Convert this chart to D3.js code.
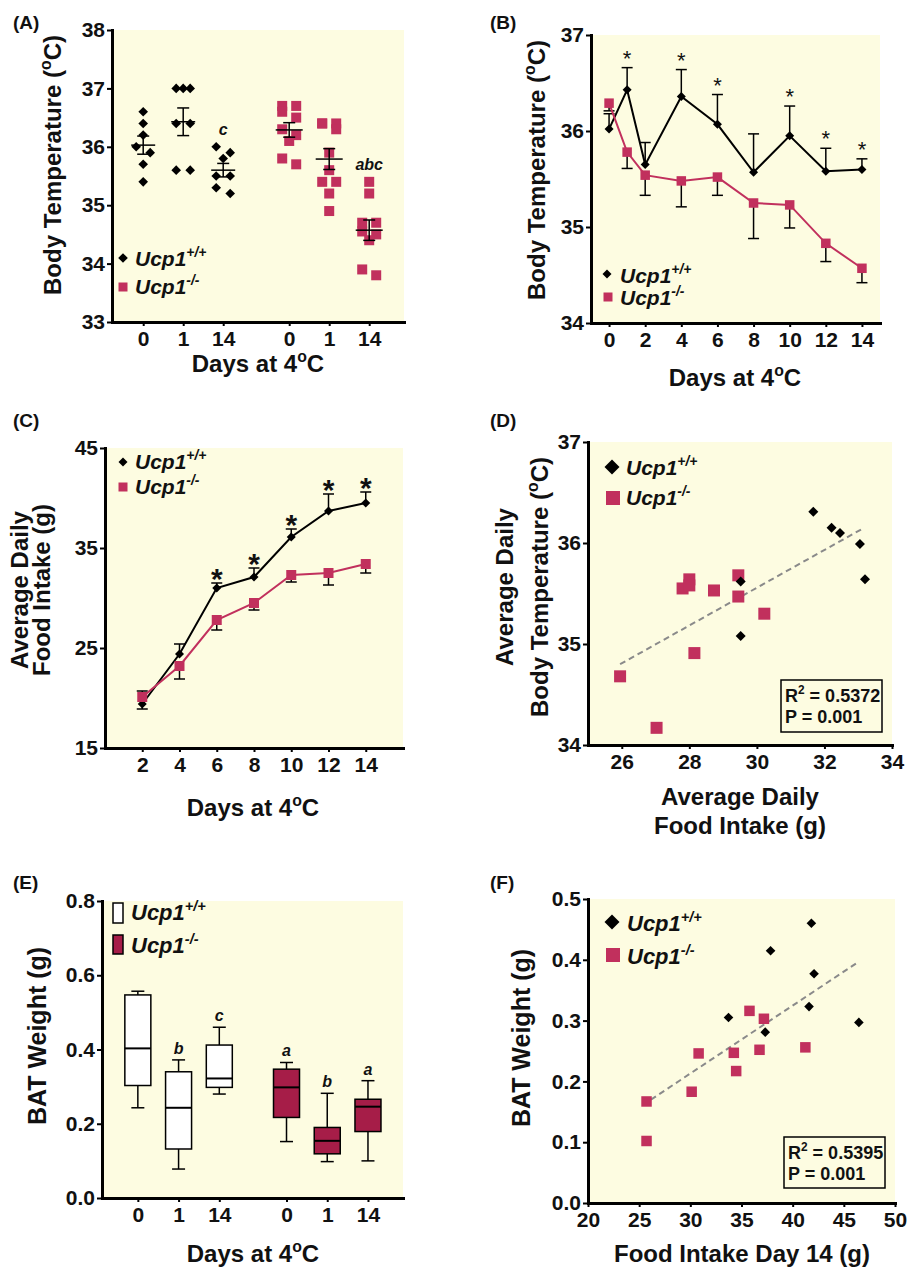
<!DOCTYPE html>
<html>
<head>
<meta charset="utf-8">
<script src="https://cdn.jsdelivr.net/npm/d3@7"></script>
<style>
body { margin: 0; background: #fff; }
</style>
</head>
<body>
<svg width="910" height="1269"></svg>
<script>
// ---------- data ----------
var genotypes = [["Ucp1", "^+/+"], ["Ucp1", "^-/-"]];

// (A) body temperature of single mice, days 0 / 1 / 14 at 4C
var aDayLabels = ["0", "1", "14", "0", "1", "14"];
var aWt = [
    [36.6, 36.4, 36.2, 36.0, 35.9, 35.7, 35.4],
    [37.0, 37.0, 37.0, 36.4, 36.4, 35.6, 35.6],
    [36.0, 35.9, 35.8, 35.5, 35.5, 35.3, 35.2]
];
var aKo = [
    [36.7, 36.7, 36.6, 36.5, 36.3, 36.2, 36.1, 35.8, 35.7],
    [36.4, 36.4, 36.4, 36.3, 35.9, 35.6, 35.4, 35.4, 35.2, 34.9],
    [35.4, 35.2, 34.7, 34.7, 34.55, 34.5, 34.4, 33.9, 33.8]
];
var aLetters = ["", "", "c", "", "", "abc"];

// (B) body temperature time course
var bDays = [0, 1, 2, 4, 6, 8, 10, 12, 14];
var bWtMean = [36.02, 36.43, 35.65, 36.36, 36.07, 35.57, 35.95, 35.58, 35.60];
var bWtSem = [0.16, 0.23, 0.23, 0.28, 0.31, 0.40, 0.31, 0.24, 0.11];
var bKoMean = [36.29, 35.78, 35.54, 35.48, 35.52, 35.25, 35.23, 34.83, 34.57];
var bKoSem = [0.08, 0.17, 0.21, 0.27, 0.19, 0.37, 0.24, 0.19, 0.15];
var bStars = [1, 4, 6, 10, 12, 14];

// (C) average daily food intake
var cDays = [2, 4, 6, 8, 10, 12, 14];
var cWtMean = [19.4, 24.4, 31.0, 32.1, 36.1, 38.7, 39.5];
var cWtSem = [0.5, 1.0, 0.5, 0.9, 0.8, 1.7, 1.1];
var cKoMean = [20.1, 23.2, 27.8, 29.5, 32.3, 32.5, 33.4];
var cKoSem = [0.6, 1.3, 1.0, 0.7, 0.7, 1.2, 0.9];
var cStars = [6, 8, 10, 12, 14];

// (D) food intake vs body temperature
var dWtFood = [31.67, 32.21, 32.46, 33.05, 33.2, 29.52, 29.52];
var dWtTemp = [36.31, 36.15, 36.10, 35.99, 35.64, 35.62, 35.08];
var dKoFood = [27.8, 28.0, 28.0, 28.73, 29.45, 29.45, 30.22, 28.15, 25.95, 27.03];
var dKoTemp = [35.55, 35.64, 35.58, 35.53, 35.68, 35.47, 35.30, 34.91, 34.68, 34.17];
var dFitFood = [25.95, 33.17];
var dFitTemp = [34.80, 36.15];
var dStats = ["0.5372", "0.001"];

// (E) BAT weight boxes: whisker low, q1, median, q3, whisker high
var eDayLabels = ["0", "1", "14", "0", "1", "14"];
var eLow = [0.243, 0.078, 0.280, 0.152, 0.098, 0.100];
var eQ1 = [0.303, 0.132, 0.298, 0.217, 0.119, 0.179];
var eMed = [0.403, 0.243, 0.322, 0.298, 0.154, 0.246];
var eQ3 = [0.547, 0.340, 0.412, 0.347, 0.190, 0.266];
var eHigh = [0.557, 0.372, 0.460, 0.365, 0.282, 0.316];
var eLetters = ["", "b", "c", "a", "b", "a"];

// (F) food intake day 14 vs BAT weight
var fWtFood = [41.83, 37.84, 42.09, 41.6, 33.73, 37.32, 46.47];
var fWtBat = [0.460, 0.415, 0.377, 0.323, 0.305, 0.281, 0.297];
var fKoFood = [35.78, 37.19, 41.24, 30.81, 34.25, 36.76, 34.48, 30.13, 25.72, 25.72];
var fKoBat = [0.316, 0.303, 0.256, 0.246, 0.247, 0.252, 0.217, 0.183, 0.167, 0.102];
var fFitFood = [26.15, 46.47];
var fFitBat = [0.170, 0.397];
var fStats = ["0.5395", "0.001"];

// ---------- helpers ----------
var font = "'Liberation Sans', Arial, Helvetica, sans-serif";
var bgColor = "#fdfce1";
var koColor = "#c1305d";
var koBox = "#a61d48";
var svg = d3.select("svg");

// parts: plain strings, "^xx" is raised
function rich(x, y, parts, size, opts) {
    opts = opts || {};
    var t = svg.append("text")
        .attr("x", x).attr("y", y)
        .attr("font-family", font)
        .attr("font-size", size)
        .attr("font-weight", "bold")
        .attr("font-style", opts.italic ? "italic" : "normal")
        .attr("text-anchor", opts.anchor || "start")
        .attr("fill", "#111");
    if (opts.rotate) t.attr("transform", `rotate(-90,${x},${y})`);
    var raised = false;
    parts.forEach((p) => {
        if (p[0] == "^") {
            t.append("tspan").text(p.slice(1))
                .attr("font-size", size * 0.66)
                .attr("dy", -size * 0.42);
            raised = true;
        } else {
            var s = t.append("tspan").text(p);
            if (raised) s.attr("dy", size * 0.42);
            raised = false;
        }
    });
    return t;
}

function backdrop(x, y) {
    var x0 = x.range()[0], x1 = x.range()[1];
    var y0 = y.range()[1], y1 = y.range()[0];
    svg.append("rect")
        .attr("x", x0).attr("y", y0)
        .attr("width", x1 - x0).attr("height", y1 - y0)
        .attr("fill", bgColor);
}

function axes(x, y, xTicks, yTicks, xFmt, yFmt) {
    var gx = svg.append("g")
        .attr("transform", `translate(0,${y.range()[0]})`)
        .call(d3.axisBottom(x).tickValues(xTicks).tickFormat(xFmt)
            .tickSize(4).tickSizeOuter(0).tickPadding(5));
    var gy = svg.append("g")
        .attr("transform", `translate(${x.range()[0]},0)`)
        .call(d3.axisLeft(y).tickValues(yTicks).tickFormat(yFmt)
            .tickSize(5).tickSizeOuter(0).tickPadding(2));
    [gx, gy].forEach((g) => {
        g.attr("font-family", font).attr("font-size", 21).attr("font-weight", "bold");
        g.select(".domain").attr("stroke-width", 3).attr("stroke-linecap", "square");
        g.selectAll(".tick line").attr("stroke-width", 2);
        g.selectAll(".tick text").attr("fill", "#111");
    });
}

function diamond(cx, cy, r, color) {
    svg.append("path")
        .attr("d", `M${cx},${cy - r}L${cx + r},${cy}L${cx},${cy + r}L${cx - r},${cy}Z`)
        .attr("fill", color || "#000");
}

function square(cx, cy, s, color) {
    svg.append("rect")
        .attr("x", cx - s / 2).attr("y", cy - s / 2)
        .attr("width", s).attr("height", s)
        .attr("fill", color || koColor);
}

function seg(x1, y1, x2, y2, w, color) {
    return svg.append("line")
        .attr("x1", x1).attr("y1", y1).attr("x2", x2).attr("y2", y2)
        .attr("stroke", color || "#000")
        .attr("stroke-width", w || 1.5);
}

function errBar(x, yFrom, yTo, cap) {
    seg(x, yFrom, x, yTo);
    seg(x - cap / 2, yTo, x + cap / 2, yTo);
}

// spread tied points into two columns, odd one of a cluster in the middle
function jitter(vals, gap) {
    var idx = vals.map((v, i) => i).sort((a, b) => vals[b] - vals[a]);
    var off = new Array(vals.length);
    var start = 0;
    for (var k = 1; k <= idx.length; k++) {
        if (k == idx.length || vals[idx[k - 1]] - vals[idx[k]] > 0.12) {
            var n = k - start;
            for (var j = start; j < k; j++) {
                var p = j - start;
                off[idx[j]] = (n % 2 == 1 && p == n - 1) ? 0 : (p % 2 ? gap : -gap);
            }
            start = k;
        }
    }
    return off;
}

function legendText(x, y, g, size) {
    rich(x, y, genotypes[g], size, {italic: true});
}

function statBox(x, y, w, h, stats) {
    svg.append("rect")
        .attr("x", x).attr("y", y).attr("width", w).attr("height", h)
        .attr("fill", "none").attr("stroke", "#000").attr("stroke-width", 1.5);
    rich(x + 4, y + 22, ["R", "^2", " = " + stats[0]], 18);
    rich(x + 4, y + 43, ["P = " + stats[1]], 18);
}

// panel letters
[["(A)", 13, 29], ["(B)", 490, 29], ["(C)", 13, 427],
 ["(D)", 490, 427], ["(E)", 13, 889], ["(F)", 490, 889]].forEach((p) => {
    rich(p[1], p[2], [p[0]], 19);
});

// ---------- (A) ----------
var aSlots = [0, 1, 2, 3.65, 4.65, 5.65];
var aX = d3.scaleLinear().domain([-0.78, 6.52]).range([112, 404]);
var aY = d3.scaleLinear().domain([33, 38]).range([322, 30]);
backdrop(aX, aY);
[aWt, aKo].forEach((groups, g) => {
    groups.forEach((vals, i) => {
        var slot = g * 3 + i;
        var cx = aX(aSlots[slot]);
        var off = jitter(vals, 7);
        vals.forEach((v, k) => {
            if (g == 0) diamond(cx + off[k], aY(v), 4.8);
            else square(cx + off[k], aY(v), 10);
        });
        var m = d3.mean(vals);
        var se = d3.deviation(vals) / Math.sqrt(vals.length);
        var w = g == 0 ? 24 : 27;
        seg(cx - w / 2, aY(m), cx + w / 2, aY(m));
        seg(cx, aY(m - se), cx, aY(m + se));
        seg(cx - 6, aY(m - se), cx + 6, aY(m - se));
        seg(cx - 6, aY(m + se), cx + 6, aY(m + se));
        if (aLetters[slot]) {
            rich(cx, aY(d3.max(vals)) - 12, [aLetters[slot]], 16, {italic: true, anchor: "middle"});
        }
    });
});
axes(aX, aY, aSlots, d3.range(33, 39), (d, i) => aDayLabels[i], d3.format("d"));
diamond(123, 258, 4.8);
legendText(135, 266, 0, 21);
square(123, 287, 9);
legendText(135, 294, 1, 21);
rich(258, 372, ["Days at 4", "^o", "C"], 24, {anchor: "middle"});
rich(61, 165, ["Body Temperature (", "^o", "C)"], 24, {anchor: "middle", rotate: true});

// ---------- (B) ----------
var bX = d3.scaleLinear().domain([-1, 15]).range([591, 880]);
var bY = d3.scaleLinear().domain([34, 37]).range([323, 35]);
backdrop(bX, bY);
bDays.forEach((d, i) => {
    errBar(bX(d), bY(bWtMean[i]), bY(bWtMean[i] + bWtSem[i]), 11);
    errBar(bX(d), bY(bKoMean[i]), bY(bKoMean[i] - bKoSem[i]), 11);
});
var bLine = d3.line().x((d) => bX(d[0])).y((d) => bY(d[1]));
svg.append("path")
    .attr("d", bLine(d3.zip(bDays, bWtMean)))
    .attr("fill", "none").attr("stroke", "#000").attr("stroke-width", 2);
svg.append("path")
    .attr("d", bLine(d3.zip(bDays, bKoMean)))
    .attr("fill", "none").attr("stroke", koColor).attr("stroke-width", 2);
bDays.forEach((d, i) => {
    diamond(bX(d), bY(bWtMean[i]), 4.5);
    square(bX(d), bY(bKoMean[i]), 9.5);
});
bStars.forEach((d) => {
    var i = bDays.indexOf(d);
    svg.append("text")
        .attr("x", bX(d)).attr("y", bY(bWtMean[i] + bWtSem[i]) - 2)
        .attr("text-anchor", "middle")
        .attr("font-family", font).attr("font-size", 22)
        .attr("fill", "#111")
        .text("*");
});
axes(bX, bY, d3.range(0, 15, 2), [34, 35, 36, 37], d3.format("d"), d3.format("d"));
diamond(607, 274, 4.5);
legendText(620, 283, 0, 21);
square(608, 297, 9);
legendText(620, 305, 1, 21);
rich(735, 386, ["Days at 4", "^o", "C"], 24, {anchor: "middle"});
rich(545, 170, ["Body Temperature (", "^o", "C)"], 24, {anchor: "middle", rotate: true});

// ---------- (C) ----------
var cX = d3.scaleLinear().domain([0, 16]).range([105, 403]);
var cY = d3.scaleLinear().domain([15, 45]).range([748, 448]);
backdrop(cX, cY);
cDays.forEach((d, i) => {
    // bars point away from the other genotype
    var up = cWtMean[i] >= cKoMean[i] ? 1 : -1;
    errBar(cX(d), cY(cWtMean[i]), cY(cWtMean[i] + up * cWtSem[i]), 11);
    errBar(cX(d), cY(cKoMean[i]), cY(cKoMean[i] - up * cKoSem[i]), 11);
});
var cLine = d3.line().x((d) => cX(d[0])).y((d) => cY(d[1]));
svg.append("path")
    .attr("d", cLine(d3.zip(cDays, cWtMean)))
    .attr("fill", "none").attr("stroke", "#000").attr("stroke-width", 2);
cDays.forEach((d, i) => diamond(cX(d), cY(cWtMean[i]), 4.5));
svg.append("path")
    .attr("d", cLine(d3.zip(cDays, cKoMean)))
    .attr("fill", "none").attr("stroke", koColor).attr("stroke-width", 2);
cDays.forEach((d, i) => square(cX(d), cY(cKoMean[i]), 10));
cStars.forEach((d) => {
    var i = cDays.indexOf(d);
    svg.append("text")
        .attr("x", cX(d)).attr("y", cY(cWtMean[i] + cWtSem[i]) + 6)
        .attr("text-anchor", "middle")
        .attr("font-family", font).attr("font-size", 30).attr("font-weight", "bold")
        .attr("fill", "#111")
        .text("*");
});
axes(cX, cY, d3.range(2, 15, 2), [15, 25, 35, 45], d3.format("d"), d3.format("d"));
diamond(123, 462, 4.5);
legendText(135, 469, 0, 21);
square(123, 487, 9);
legendText(135, 494, 1, 21);
rich(253, 816, ["Days at 4", "^o", "C"], 24, {anchor: "middle"});
rich(28, 590, ["Average Daily"], 24, {anchor: "middle", rotate: true});
rich(50, 590, ["Food Intake (g)"], 24, {anchor: "middle", rotate: true});

// ---------- (D) ----------
var dX = d3.scaleLinear().domain([25, 34]).range([588, 892]);
var dY = d3.scaleLinear().domain([34, 37]).range([745, 442]);
backdrop(dX, dY);
svg.append("line")
    .attr("x1", dX(dFitFood[0])).attr("y1", dY(dFitTemp[0]))
    .attr("x2", dX(dFitFood[1])).attr("y2", dY(dFitTemp[1]))
    .attr("stroke", "#8a8a8a").attr("stroke-width", 2).attr("stroke-dasharray", "6,4");
dKoFood.forEach((f, i) => square(dX(f), dY(dKoTemp[i]), 12));
dWtFood.forEach((f, i) => diamond(dX(f), dY(dWtTemp[i]), 5));
axes(dX, dY, d3.range(26, 35, 2), [34, 35, 36, 37], d3.format("d"), d3.format("d"));
statBox(781, 680, 101, 52, dStats);
diamond(612, 467, 7.5);
legendText(626, 475, 0, 21);
square(613, 498, 14);
legendText(626, 505, 1, 21);
rich(740, 805, ["Average Daily"], 24, {anchor: "middle"});
rich(740, 834, ["Food Intake (g)"], 24, {anchor: "middle"});
rich(513, 587, ["Average Daily"], 24, {anchor: "middle", rotate: true});
rich(548, 587, ["Body Temperature (", "^o", "C)"], 24, {anchor: "middle", rotate: true});

// ---------- (E) ----------
var eSlots = [0, 1, 2, 3.65, 4.65, 5.65];
var eX = d3.scaleLinear().domain([-0.88, 6.51]).range([102, 403]);
var eY = d3.scaleLinear().domain([0, 0.8]).range([1198, 901]);
backdrop(eX, eY);
eSlots.forEach((s, i) => {
    var cx = eX(s);
    var w = 26;
    seg(cx, eY(eLow[i]), cx, eY(eQ1[i]));
    seg(cx, eY(eQ3[i]), cx, eY(eHigh[i]));
    seg(cx - 6.5, eY(eLow[i]), cx + 6.5, eY(eLow[i]));
    seg(cx - 6.5, eY(eHigh[i]), cx + 6.5, eY(eHigh[i]));
    svg.append("rect")
        .attr("x", cx - w / 2).attr("y", eY(eQ3[i]))
        .attr("width", w).attr("height", eY(eQ1[i]) - eY(eQ3[i]))
        .attr("fill", i < 3 ? "#fff" : koBox)
        .attr("stroke", "#000").attr("stroke-width", 1.5);
    seg(cx - w / 2, eY(eMed[i]), cx + w / 2, eY(eMed[i]), 2);
    if (eLetters[i]) {
        rich(cx, eY(eHigh[i]) - 6, [eLetters[i]], 16, {italic: true, anchor: "middle"});
    }
});
axes(eX, eY, eSlots, [0, 0.2, 0.4, 0.6, 0.8], (d, i) => eDayLabels[i], d3.format(".1f"));
svg.append("rect").attr("x", 113).attr("y", 903).attr("width", 10).attr("height", 20)
    .attr("fill", "#fff").attr("stroke", "#000").attr("stroke-width", 1.5);
legendText(131, 920, 0, 22);
svg.append("rect").attr("x", 113).attr("y", 935).attr("width", 10).attr("height", 19)
    .attr("fill", koBox).attr("stroke", "#000").attr("stroke-width", 1.5);
legendText(131, 953, 1, 22);
rich(253, 1262, ["Days at 4", "^o", "C"], 24, {anchor: "middle"});
rich(46, 1036, ["BAT Weight (g)"], 25, {anchor: "middle", rotate: true});

// ---------- (F) ----------
var fX = d3.scaleLinear().domain([20, 50]).range([588, 895]);
var fY = d3.scaleLinear().domain([0, 0.5]).range([1203, 899]);
backdrop(fX, fY);
svg.append("line")
    .attr("x1", fX(fFitFood[0])).attr("y1", fY(fFitBat[0]))
    .attr("x2", fX(fFitFood[1])).attr("y2", fY(fFitBat[1]))
    .attr("stroke", "#8a8a8a").attr("stroke-width", 2).attr("stroke-dasharray", "6,4");
fKoFood.forEach((f, i) => square(fX(f), fY(fKoBat[i]), 10.5));
fWtFood.forEach((f, i) => diamond(fX(f), fY(fWtBat[i]), 4.8));
axes(fX, fY, d3.range(20, 51, 5), [0, 0.1, 0.2, 0.3, 0.4, 0.5], d3.format("d"), d3.format(".1f"));
statBox(784, 1137, 101, 51, fStats);
diamond(612, 922, 7.5);
legendText(627, 931, 0, 22);
square(613, 955, 14);
legendText(627, 964, 1, 22);
rich(742, 1262, ["Food Intake Day 14 (g)"], 24, {anchor: "middle"});
rich(530, 1038, ["BAT Weight (g)"], 25, {anchor: "middle", rotate: true});
</script>
</body>
</html>
